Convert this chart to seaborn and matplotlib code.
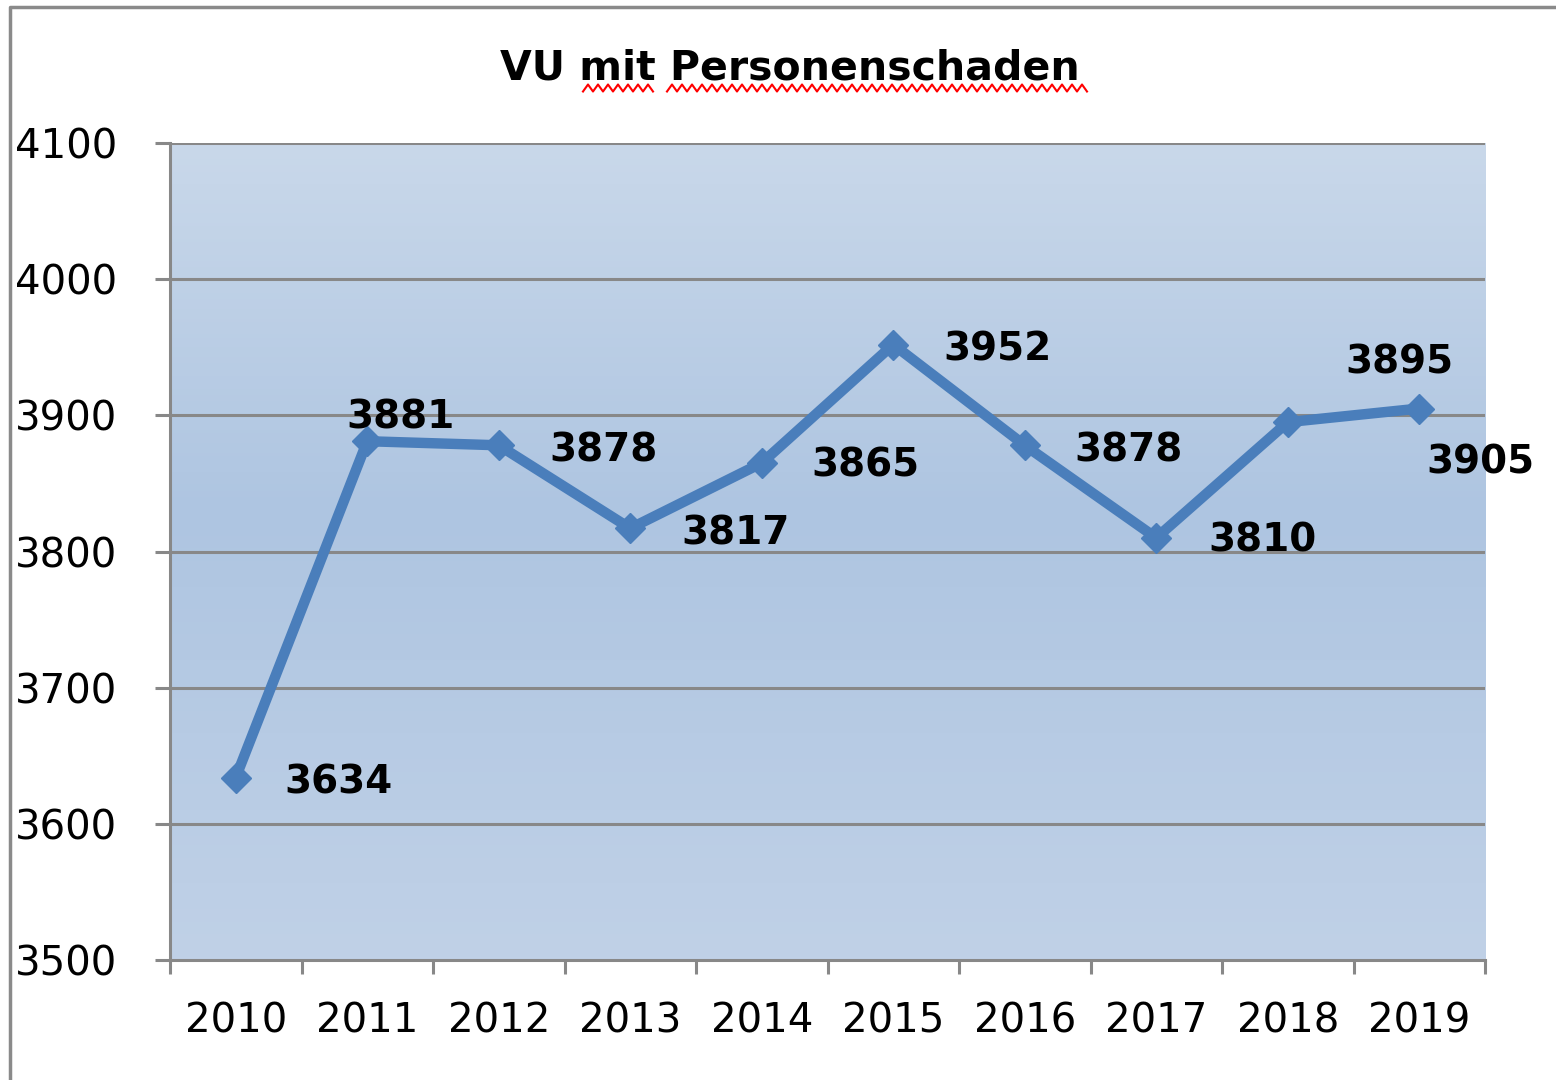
import numpy as np
import pandas as pd
import matplotlib.pyplot as plt
import seaborn as sns
from matplotlib.colors import LinearSegmentedColormap
from matplotlib.lines import Line2D

years = ['2010', '2011', '2012', '2013', '2014', '2015', '2016', '2017', '2018', '2019']
unfaelle = [3634, 3881, 3878, 3817, 3865, 3952, 3878, 3810, 3895, 3905]
y_ticks = [3500, 3600, 3700, 3800, 3900, 4000, 4100]
title = 'VU mit Personenschaden'

# label offsets (pixels) from each point: left edge of text, vertical centre
label_dx = [49, -21, 51, 51, 50, 50, 50, 52, 58, 7]
label_dy = [-5, 24, -5, -5, -3, -5, -5, -3, 60, -54]

df = pd.DataFrame({'Jahr': years, 'VU': unfaelle})

grey = '#888888'
blue = '#4a7ebb'

fig = plt.figure(figsize=(15.56, 10.8), dpi=100)
ax = fig.add_axes([170/1556, 1 - 960/1080, 1315/1556, 817/1080])

# gradient plot background like the Excel chart
cmap = LinearSegmentedColormap.from_list(
    'bg', [(0.0, '#c9d8ea'), (0.45, '#aec5e1'), (1.0, '#c0d1e7')])
grad = np.linspace(0, 1, 256).reshape(-1, 1)
ax.imshow(grad, cmap=cmap, aspect='auto', extent=[-0.5, 9.5, 3500, 4100],
          origin='upper', zorder=0)

for t in y_ticks[1:]:
    ax.axhline(t, color=grey, lw=2.2, zorder=1)

sns.lineplot(data=df, x='Jahr', y='VU', ax=ax, color=blue, lw=7.5,
             marker='D', markersize=15, markeredgecolor=blue,
             markeredgewidth=1, zorder=3, sort=False)

for i, v in enumerate(unfaelle):
    ax.annotate(str(v), (i, v), xytext=(label_dx[i], label_dy[i]),
                textcoords='offset pixels', ha='left', va='center',
                fontsize=28, fontweight='bold', color='black', zorder=4)

ax.set_xlim(-0.5, 9.5)
ax.set_ylim(3500, 4100)
ax.set_xlabel('')
ax.set_ylabel('')

ax.set_yticks(y_ticks)
ax.set_yticklabels([str(t) for t in y_ticks], ha='left')
ax.tick_params(axis='y', direction='out', length=11, width=2.2, color=grey,
               labelsize=29, pad=100.5)

ax.set_xticks(range(len(years)))
ax.set_xticklabels(years)
ax.set_xticks(np.arange(-0.5, 10, 1), minor=True)
ax.tick_params(axis='x', which='major', length=0, labelsize=29, pad=30)
ax.tick_params(axis='x', which='minor', direction='out', length=10,
               width=2.2, color=grey)

for s in ['top', 'right']:
    ax.spines[s].set_visible(False)
for s in ['left', 'bottom']:
    ax.spines[s].set_color(grey)
    ax.spines[s].set_linewidth(2.2)

# title with the spell-check squiggle underneath
fig.text(790/1556, 1 - 68/1080, title, ha='center', va='center',
         fontsize=29.5, fontweight='bold')


def squiggle(x0, x1, y, amp=3.5, step=5):
    xs = np.arange(x0, x1 + 1, step)
    ys = y + np.where(np.arange(len(xs)) % 2 == 0, amp, -amp)
    fig.add_artist(Line2D(xs / 1556, 1 - ys / 1080, color='red', lw=1.5,
                          transform=fig.transFigure))


squiggle(583, 657, 88)
squiggle(667, 1087, 88)

# outer chart frame (only left and top visible in the screenshot)
fig.add_artist(Line2D([10/1556, 10/1556, 1.0], [0.0, 1 - 7/1080, 1 - 7/1080],
                      color='#8a8a8a', lw=2.5, transform=fig.transFigure))

fig.savefig('out.png', dpi=100)
